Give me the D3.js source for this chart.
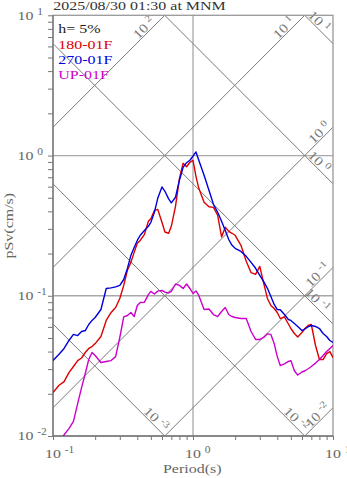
<!DOCTYPE html>
<meta charset="utf-8">
<style>
body { margin: 0; background: #fff; }
text { font-family: "Liberation Serif", "Times New Roman", serif; }
.grid { stroke: #a8a8a8; stroke-width: 1.3px; }
.diag { stroke: #7a7a7a; stroke-width: 1px; fill: none; }
.curve { fill: none; stroke-width: 1.4px; stroke-linejoin: round; }
.tick line { stroke: #777; }
</style>
<body>
<script src="https://d3js.org/d3.v7.min.js"></script>
<script>

// periods (s)
var periods = [0.10,0.11,0.12,0.13,0.14,0.15,0.16,0.17,0.18,0.19,
  0.20,0.22,0.24,0.26,0.28,0.30,0.32,0.34,0.36,0.38,
  0.40,0.42,0.45,0.48,0.50,0.53,0.56,0.60,0.63,0.67,
  0.70,0.75,0.80,0.85,0.90,0.95,1.0,1.05,1.1,1.2,
  1.3,1.4,1.5,1.6,1.7,1.8,1.9,2.0,2.2,2.4,
  2.6,2.8,3.0,3.2,3.4,3.6,3.8,4.0,4.2,4.5,
  4.8,5.0,5.3,5.6,6.0,6.3,6.7,7.0,7.5,8.0,
  8.5,9.0,9.5,10];

// pSv (cm/s), 180 component
var sv180 = [0.0204,0.0229,0.0244,0.0283,0.0313,0.0345,0.036,0.0394,0.0421,0.0434,
  0.0456,0.0512,0.0667,0.076,0.0824,0.0957,0.1186,0.152,0.173,0.204,
  0.237,0.248,0.274,0.340,0.354,0.406,0.413,0.334,0.285,0.279,
  0.313,0.434,0.688,0.881,0.832,0.895,0.925,0.711,0.584,0.464,
  0.431,0.427,0.375,0.263,0.308,0.288,0.279,0.270,0.229,0.176,
  0.146,0.142,0.162,0.1225,0.0957,0.0853,0.0811,0.076,0.0688,0.0706,
  0.0629,0.0584,0.0538,0.0508,0.0547,0.0584,0.0618,0.0624,0.0442,0.0351,
  0.0351,0.0387,0.040,0.0362];

// pSv (cm/s), 270 component
var sv270 = [0.0345,0.0381,0.0421,0.048,0.053,0.052,0.0556,0.0565,0.0624,0.0667,
  0.070,0.0798,0.1127,0.1138,0.1156,0.1186,0.1306,0.1567,0.194,0.221,
  0.248,0.270,0.292,0.313,0.334,0.394,0.495,0.597,0.556,0.491,
  0.460,0.504,0.667,0.824,0.889,0.925,0.989,1.061,0.925,0.723,
  0.565,0.449,0.394,0.340,0.292,0.252,0.229,0.218,0.207,0.191,
  0.173,0.157,0.140,0.126,0.113,0.0989,0.0867,0.0798,0.0794,0.0735,
  0.0677,0.0667,0.0634,0.0604,0.0565,0.0579,0.0604,0.0614,0.0604,0.0584,
  0.0538,0.0512,0.048,0.0464];

// pSv (cm/s), UP component
var svUP = [0.0076,0.0088,0.0102,0.0113,0.0127,0.017,0.0221,0.0279,0.0351,0.0394,
  0.0375,0.0334,0.034,0.0345,0.0368,0.0504,0.0706,0.0723,0.076,0.0711,
  0.0853,0.0895,0.090,0.102,0.1074,0.103,0.1079,0.1091,0.1061,0.1047,
  0.1074,0.1213,0.1186,0.1127,0.1213,0.1127,0.1038,0.1082,0.1005,0.0798,
  0.0805,0.0735,0.0711,0.0773,0.0824,0.0735,0.0711,0.070,0.0688,0.0688,
  0.0556,0.0488,0.0488,0.0504,0.0535,0.053,0.0456,0.0368,0.0318,0.0327,
  0.034,0.0345,0.0292,0.0272,0.0286,0.0292,0.0303,0.0313,0.0331,0.0351,
  0.0375,0.040,0.0421,0.0442];

var seriesNames = ["180-01F", "270-01F", "UP-01F"];
var seriesColors = ["#dd0000", "#0000dd", "#cc00cc"];
var seriesValues = [sv180, sv270, svUP];

var xTickValues = [0.1, 1, 10];
var xTickExp = ["-1", "0", "1"];
var yTickValues = [0.01, 0.1, 1, 10];
var yTickExp = ["-2", "-1", "0", "1"];

// tripartite lines: displacement (cm) and acceleration (cm/s2)
var sdLevels = [10, 1, 0.1, 0.01, 0.001];
var sdExp = ["1", "0", "-1", "-2", "-3"];
var saLevels = [100, 10, 1, 0.1, 0.01];
var saExp = ["2", "1", "0", "-1", "-2"];

var title = "2025/08/30 01:30 at MNM";
var damping = "h= 5%";

var margin = {top: 15.3, left: 53},
    width = 280,
    height = 420.7,
    K = 1.2;   // horizontal stretch of the font

var svg = d3.select("body").append("svg")
    .attr("width", 347)
    .attr("height", 478);

var g = svg.append("g")
    .attr("transform", "translate(" + margin.left + "," + margin.top + ")");

var x = d3.scaleLog().domain([0.1, 10]).range([0, width]);
var y = d3.scaleLog().domain([0.01, 10]).range([height, 0]);

function stretch(sel) {
  sel.each(function() {
    var w = this.getComputedTextLength();
    d3.select(this).attr("textLength", w * K).attr("lengthAdjust", "spacingAndGlyphs");
  });
  return sel;
}

// "10" with a superscript, laid out from x=0 at baseline 0; returns width
function powLabel(parent, exp, color, size) {
  var base = parent.append("text").attr("x", 0).attr("y", 0)
      .style("font-size", size + "px").style("fill", color).text("10");
  stretch(base);
  var bw = base.node().getComputedTextLength() * K;
  var sup = parent.append("text").attr("x", bw + 0.5).attr("y", -size * 0.38)
      .style("font-size", (size * 0.72) + "px").style("fill", color).text(exp);
  stretch(sup);
  return bw + 0.5 + sup.node().getComputedTextLength() * K;
}

svg.append("defs").append("clipPath").attr("id", "plotclip")
  .append("rect").attr("width", width).attr("height", height);

// decade grid
g.selectAll(".vgrid").data([1]).enter().append("line")
    .attr("class", "grid")
    .attr("x1", function(d) { return x(d); }).attr("x2", function(d) { return x(d); })
    .attr("y1", 0).attr("y2", height);
g.selectAll(".hgrid").data([1, 0.1]).enter().append("line")
    .attr("class", "grid")
    .attr("x1", 0).attr("x2", width)
    .attr("y1", function(d) { return y(d); }).attr("y2", function(d) { return y(d); });

// tripartite diagonals
var diag = g.append("g").attr("clip-path", "url(#plotclip)");
sdLevels.forEach(function(sd) {
  diag.append("line").attr("class", "diag")
    .attr("x1", x(0.01)).attr("y1", y(2 * Math.PI * sd / 0.01))
    .attr("x2", x(100)).attr("y2", y(2 * Math.PI * sd / 100));
});
saLevels.forEach(function(sa) {
  diag.append("line").attr("class", "diag")
    .attr("x1", x(0.01)).attr("y1", y(sa * 0.01 / (2 * Math.PI)))
    .attr("x2", x(100)).attr("y2", y(sa * 100 / (2 * Math.PI)));
});

var r2 = Math.SQRT1_2;
// labels on displacement lines (lower-right end)
sdLevels.forEach(function(sd, i) {
  var tEnd = Math.min(10, 2 * Math.PI * sd / 0.01);
  var ex = x(tEnd), ey = y(2 * Math.PI * sd / tEnd);
  var a = tEnd < 10 ? 2 : 12, p = 5.5;
  var cx = ex - a * r2 + p * r2, cy = ey - a * r2 - p * r2;
  var lg = g.append("g").attr("transform", "translate(" + cx + "," + cy + ") rotate(45)");
  var inner = lg.append("g");
  var w = powLabel(inner, sdExp[i], "#777", 13);
  inner.attr("transform", "translate(" + (-w) + ",4)");
});
// labels on acceleration lines (upper-right end)
saLevels.forEach(function(sa, i) {
  var tEnd = Math.min(10, 20 * Math.PI / sa);
  var ex = x(tEnd), ey = y(sa * tEnd / (2 * Math.PI));
  var a = tEnd < 10 ? 10 : 0, p = 5.5;
  var cx = ex - a * r2 - p * r2, cy = ey + a * r2 - p * r2;
  var lg = g.append("g").attr("transform", "translate(" + cx + "," + cy + ") rotate(-45)");
  var inner = lg.append("g");
  var w = powLabel(inner, saExp[i], "#777", 13);
  inner.attr("transform", "translate(" + (-w) + ",4)");
});

// frame
g.append("rect").attr("width", width).attr("height", height)
    .style("fill", "none").style("stroke", "#999").style("stroke-width", 1.3);
g.append("line").attr("x1", 0).attr("x2", 0).attr("y1", 0).attr("y2", height)
    .style("stroke", "#777").style("stroke-width", 1.3);
g.append("line").attr("x1", 0).attr("x2", width).attr("y1", height).attr("y2", height)
    .style("stroke", "#777").style("stroke-width", 1.3);

// minor ticks
var minor = [];
[-2, -1, 0].forEach(function(e) {
  for (var k = 1; k < 10; k++) minor.push(k * Math.pow(10, e));
});
minor.push(10);
var yAxis = g.append("g")
    .call(d3.axisLeft(y).tickValues(minor).tickSize(5).tickFormat(""));
yAxis.select(".domain").remove();
var xMinor = minor.filter(function(v) { return v >= 0.1; });
var xAxis = g.append("g")
    .attr("transform", "translate(0," + height + ")")
    .call(d3.axisBottom(x).tickValues(xMinor).tickSize(4).tickFormat(""));
xAxis.select(".domain").remove();

// tick labels
yTickValues.forEach(function(v, i) {
  var tg = svg.append("g").attr("transform", "translate(17.5," + (margin.top + y(v) + 4.3) + ")");
  powLabel(tg, yTickExp[i], "#666", 13.3);
});
xTickValues.forEach(function(v, i) {
  var tg = svg.append("g").attr("transform", "translate(" + (margin.left + x(v) - 8) + ",458)");
  powLabel(tg, xTickExp[i], "#666", 13.3);
});

// curves
var line = d3.line()
    .x(function(d) { return x(d[0]); })
    .y(function(d) { return y(d[1]); });
var curves = g.append("g").attr("clip-path", "url(#plotclip)");
seriesValues.forEach(function(vals, i) {
  curves.append("path")
      .datum(periods.map(function(t, j) { return [t, vals[j]]; }))
      .attr("class", "curve")
      .style("stroke", seriesColors[i])
      .attr("d", line);
});

// title, legend, axis names
stretch(svg.append("text").attr("x", 53.3).attr("y", 9.5)
    .style("font-size", "13.3px").style("fill", "#333").text(title));
stretch(svg.append("text").attr("x", 58.3).attr("y", 33.3)
    .style("font-size", "13.3px").style("fill", "#222").text(damping));
seriesNames.forEach(function(name, i) {
  stretch(svg.append("text").attr("x", 58.3).attr("y", 48.5 + i * 15)
      .style("font-size", "13.3px").style("fill", seriesColors[i]).text(name));
});
stretch(svg.append("text").attr("x", 163).attr("y", 473)
    .style("font-size", "13.3px").style("fill", "#666").text("Period(s)"));
stretch(svg.append("text").attr("transform", "translate(13,258.5) rotate(-90)")
    .style("font-size", "13.3px").style("fill", "#666").text("pSv(cm/s)"));

</script>
</body>
